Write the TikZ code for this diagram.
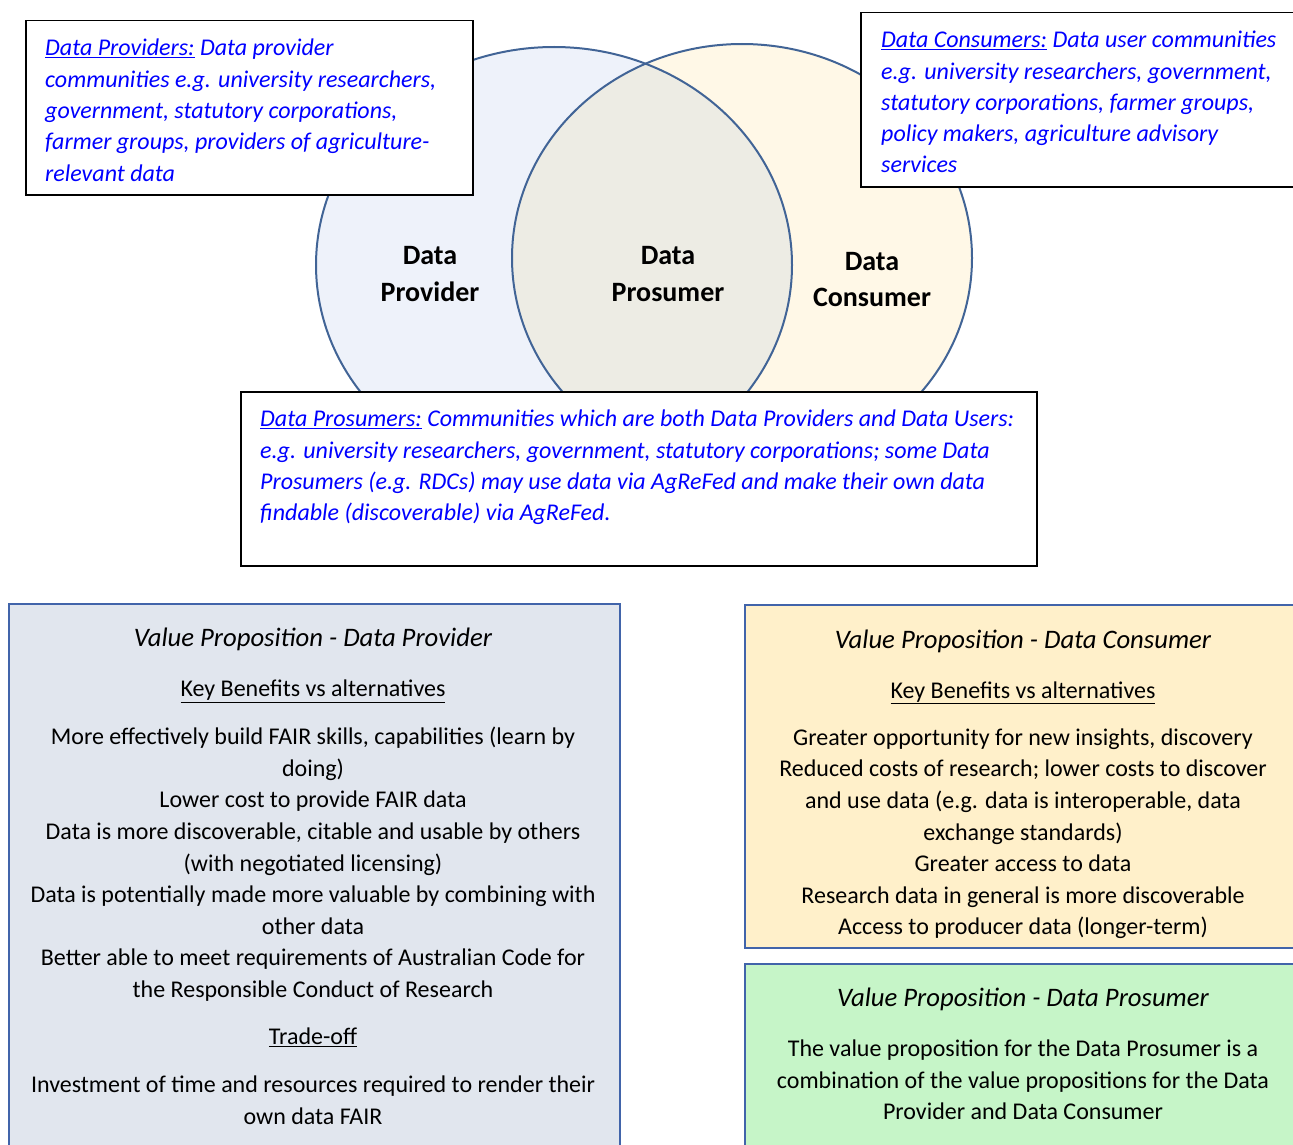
\documentclass[tikz,border=0pt]{standalone}
\usepackage{fontspec}
\setmainfont{Carlito}
\definecolor{provfill}{RGB}{238,242,250}
\definecolor{consfill}{RGB}{255,248,231}
\definecolor{prosfill}{RGB}{237,236,228}
\definecolor{circline}{RGB}{65,100,150}
\definecolor{vpline}{RGB}{65,100,170}
\definecolor{vpprov}{RGB}{225,230,238}
\definecolor{vpcons}{RGB}{255,240,202}
\definecolor{vppros}{RGB}{198,245,200}
\definecolor{linkblue}{RGB}{0,0,255}
\tikzset{
 descbox/.style={draw=black, line width=1.5pt, fill=white, anchor=north west, inner sep=0pt},
 desctext/.style={anchor=north west, inner sep=0pt, align=left, text=linkblue, font=\fontsize{24}{31.3}\selectfont\itshape},
 vpbox/.style={draw=vpline, line width=2pt, anchor=north west, inner sep=0pt},
 vptext/.style={anchor=north, inner sep=0pt, align=center, font=\fontsize{24}{31.6}\selectfont},
 circlabel/.style={align=center, inner sep=0pt, font=\fontsize{28}{36.5}\selectfont\bfseries},
 circedge/.style={draw=circline, line width=2pt},
}
\newcommand{\vptitle}[1]{{\fontsize{26.7}{31.6}\selectfont\itshape #1}}
\begin{document}
\begin{tikzpicture}[x=1pt,y=-1pt]
\useasboundingbox (0,0) rectangle (1293,1145);
% Venn circles
\fill[provfill] (554,265) ellipse [x radius=238, y radius=218];
\fill[consfill] (742,258) ellipse [x radius=230, y radius=214];
\begin{scope}
\clip (554,265) ellipse [x radius=238, y radius=218];
\fill[prosfill] (742,258) ellipse [x radius=230, y radius=214];
\end{scope}
\draw[circedge] (554,265) ellipse [x radius=238, y radius=218];
\draw[circedge] (742,258) ellipse [x radius=230, y radius=214];
% circle labels
\node[circlabel] (lprov) at (430,274) {Data\\Provider};
\node[circlabel] (lpros) at (668,274) {Data\\Prosumer};
\node[circlabel] (lcons) at (872,279.5) {Data\\Consumer};
% description boxes
\node[descbox, minimum width=447, minimum height=174] (bprov) at (25,20) {};
\node[desctext] (tprov) at (45,39) {\underline{Data Providers:} Data provider\\
communities e.g. university researchers,\\
government, statutory corporations,\\
farmer groups, providers of agriculture-\\
relevant data};
\node[descbox, minimum width=450, minimum height=174] (bcons) at (860,12) {};
\node[desctext] (tcons) at (881,31) {\underline{Data Consumers:} Data user communities\\
e.g. university researchers, government,\\
statutory corporations, farmer groups,\\
policy makers, agriculture advisory\\
services};
\node[descbox, minimum width=796, minimum height=174] (bpros) at (240,391) {};
\node[desctext] (tpros) at (260,410) {\underline{Data Prosumers:} Communities which are both Data Providers and Data Users:\\
e.g. university researchers, government, statutory corporations; some Data\\
Prosumers (e.g. RDCs) may use data via AgReFed and make their own data\\
findable (discoverable) via AgReFed.};
% value proposition boxes
\node[vpbox, fill=vpprov, minimum width=611, minimum height=560] (vprov) at (8,603) {};
\node[vptext] (vprovt) at (313,628) {\vptitle{Value Proposition - Data Provider}\\[18.4pt]
\underline{Key Benefits vs alternatives}\\[16.4pt]
More effectively build FAIR skills, capabilities (learn by\\
doing)\\
Lower cost to provide FAIR data\\
Data is more discoverable, citable and usable by others\\
(with negotiated licensing)\\
Data is potentially made more valuable by combining with\\
other data\\
Better able to meet requirements of Australian Code for\\
the Responsible Conduct of Research\\[15.4pt]
\underline{Trade-off}\\[16.4pt]
Investment of time and resources required to render their\\
own data FAIR};
\node[vpbox, fill=vpcons, minimum width=570, minimum height=343] (vcons) at (744,604) {};
\node[vptext] (vconst) at (1023,629.5) {\vptitle{Value Proposition - Data Consumer}\\[18.4pt]
\underline{Key Benefits vs alternatives}\\[15.4pt]
Greater opportunity for new insights, discovery\\
Reduced costs of research; lower costs to discover\\
and use data (e.g. data is interoperable, data\\
exchange standards)\\
Greater access to data\\
Research data in general is more discoverable\\
Access to producer data (longer-term)};
\node[vpbox, fill=vppros, minimum width=570, minimum height=200] (vpros) at (744,963) {};
\node[vptext] (vprost) at (1023,988) {\vptitle{Value Proposition - Data Prosumer}\\[18.4pt]
The value proposition for the Data Prosumer is a\\
combination of the value propositions for the Data\\
Provider and Data Consumer};
\end{tikzpicture}
\end{document}
